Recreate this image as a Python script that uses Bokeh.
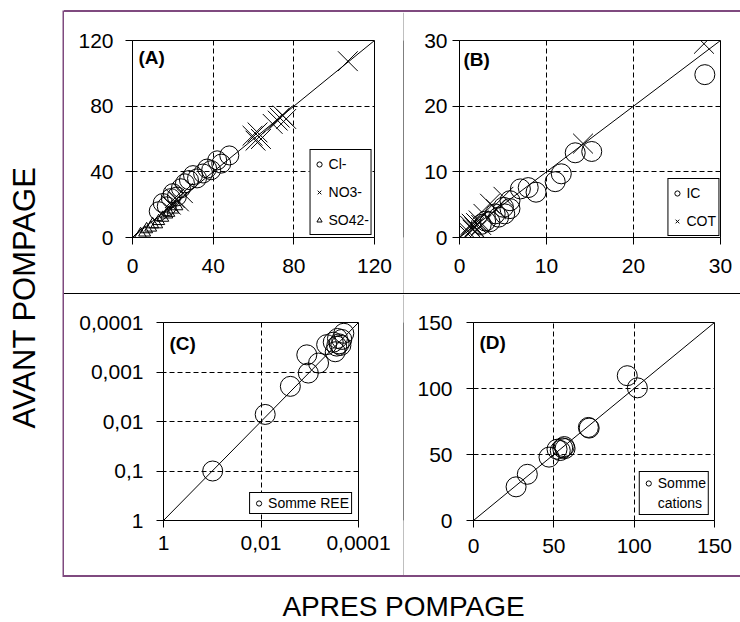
from bokeh.plotting import figure
from bokeh.models import (Range1d, FixedTicker, Legend, LegendItem, Label,
                          CustomJSTickFormatter, Spacer)
from bokeh.layouts import row, column
from bokeh.embed import file_html
from bokeh.resources import INLINE

FONT = "Liberation Sans"
PURPLE = "#7f4a7f"

# ---------------- data ----------------
# Panel A : anions
a_ticks = [0, 40, 80, 120]
a_grid = [40, 80]
a_diag = [0, 120]
cl_x = [13, 15, 17, 19, 20, 22, 24, 26, 28, 30, 32, 35, 37, 39, 42, 44, 48]
cl_y = [16, 21, 19, 24, 27, 25, 30, 33, 35, 38, 36, 39, 42, 41, 47, 45, 50]
no3_x = [0, 19, 21, 23, 25, 59.5, 61, 62, 63.7, 69.5, 72, 73, 74.5, 76.2, 106.8]
no3_y = [0, 20, 24, 22, 27, 62, 59, 64, 60, 69.2, 71.2, 73, 74.3, 72.2, 107.4]
so4_x = [4, 6, 7, 9, 10, 12, 13, 15, 17, 18, 20, 22]
so4_y = [2, 3, 5, 6, 8, 8, 10, 12, 14, 15, 17, 19]

# Panel B : carbon
b_ticks = [0, 10, 20, 30]
b_grid = [10, 20]
b_diag = [0, 30]
ic_x = [2.5, 3.0, 3.5, 4.1, 4.5, 5.05, 5.2, 5.8, 5.8, 7.0, 7.9, 8.8, 11.0, 11.7, 13.3, 15.2, 28.2]
ic_y = [2.0, 2.5, 2.4, 3.6, 3.1, 4.6, 3.6, 4.4, 5.6, 7.4, 7.6, 6.9, 8.5, 9.7, 12.9, 13.1, 24.8]
cot_x = [0.85, 1.0, 1.2, 1.4, 1.5, 1.7, 1.9, 2.0, 2.2, 2.5, 2.75, 3.5, 4.2, 5.05, 14.2, 28.1]
cot_y = [1.1, 0.5, 1.8, 2.1, 1.2, 1.6, 2.2, 1.1, 2.6, 1.9, 3.6, 5.15, 4.3, 6.2, 14.3, 29.5]

# Panel C : sum of REE (log axes, reversed)
c_ticks_x = [1, 0.01, 0.0001]
c_ticks_y = [1, 0.1, 0.01, 0.001, 0.0001]
c_grid_x = [0.01]
c_grid_y = [0.1, 0.01, 0.001]
c_diag = [1, 0.0001]
ree_x = [0.098, 0.0082, 0.0025, 0.00107, 0.00115, 0.00066, 0.00045, 0.0003,
         0.00033, 0.00028, 0.00025, 0.00022, 0.0002, 0.00027, 0.00023]
ree_y = [0.1, 0.0072, 0.00195, 0.00105, 0.00045, 0.00066, 0.00028, 0.00039,
         0.00025, 0.0003, 0.00027, 0.00022, 0.000165, 0.00021, 0.00029]

# Panel D : sum of cations
d_ticks = [0, 50, 100, 150]
d_grid = [50, 100]
d_diag = [0, 150]
cat_x = [26.5, 33.5, 47, 52, 54, 55.5, 56.5, 57, 71.5, 72, 95.7, 102]
cat_y = [25.5, 35, 48, 54, 53, 55, 56, 54.5, 70.5, 70, 109.7, 100.5]
empty = []


def make_panel(xr, yr, w, h, bl, br, bt, bb, xticks, yticks, xgrid, ygrid,
               xstand, ystand, log=False):
    kw = {}
    if log:
        kw = dict(x_axis_type="log", y_axis_type="log")
    p = figure(width=w, height=h, x_range=xr, y_range=yr, title=None,
               min_border_left=bl, min_border_right=br, min_border_top=bt,
               min_border_bottom=bb, output_backend="svg",
               toolbar_location=None, **kw)
    p.background_fill_color = "white"
    p.border_fill_color = "white"
    p.outline_line_color = "black"
    p.outline_line_width = 1
    p.xaxis.ticker = FixedTicker(ticks=xticks)
    p.yaxis.ticker = FixedTicker(ticks=yticks)
    p.xgrid.ticker = FixedTicker(ticks=xgrid)
    p.ygrid.ticker = FixedTicker(ticks=ygrid)
    for g in (p.xgrid, p.ygrid):
        g.grid_line_color = "black"
        g.grid_line_dash = "5 3"
        g.grid_line_width = 1
    for ax in p.axis:
        ax.axis_line_color = "black"
        ax.major_tick_line_color = "black"
        ax.major_tick_out = 7
        ax.major_tick_in = 0
        ax.minor_tick_line_color = None
        ax.major_label_text_font = FONT
        ax.major_label_text_font_size = "21px"
        ax.major_label_text_color = "black"
        ax.formatter = CustomJSTickFormatter(
            code="return tick.toString().replace('.', ',');")
    p.xaxis.major_label_standoff = xstand
    p.yaxis.major_label_standoff = ystand
    return p


def style_legend(leg, pad, lh, gw, spacing, margin):
    leg.location = "bottom_right"
    leg.border_line_color = "black"
    leg.border_line_width = 1
    leg.border_line_alpha = 1
    leg.background_fill_color = "white"
    leg.background_fill_alpha = 1
    leg.label_text_font = FONT
    leg.label_text_font_size = "14px"
    leg.label_text_color = "black"
    leg.padding = pad
    leg.label_height = lh
    leg.glyph_height = lh
    leg.glyph_width = gw
    leg.label_standoff = 3
    leg.spacing = spacing
    leg.margin = margin


def panel_label(p, x, y, text, dx, dy):
    p.add_layout(Label(x=x, y=y, text=text, x_offset=dx, y_offset=-dy,
                       text_font=FONT, text_font_size="19px",
                       text_font_style="bold", text_baseline="top",
                       text_align="left", text_color="black"))


mk = dict(fill_color=None, line_color="black", line_width=1)

# ---- Panel A ----
pA = make_panel(Range1d(0, 120), Range1d(0, 120), 339, 281, 68, 29, 28, 56,
                a_ticks, a_ticks, a_grid, a_grid, 14, 12)
pA.line(a_diag, a_diag, line_color="black", line_width=1)
rA1 = pA.scatter(cl_x, cl_y, marker="circle", size=19, **mk)
rA2 = pA.scatter(no3_x, no3_y, marker="x", size=28, **mk)
rA3 = pA.scatter(so4_x, so4_y, marker="triangle", size=12, **mk)
legA = Legend(items=[LegendItem(label="Cl-", renderers=[rA1]),
                     LegendItem(label="NO3-", renderers=[rA2]),
                     LegendItem(label="SO42-", renderers=[rA3])])
style_legend(legA, 2, 24, 13, 4, 2)
pA.add_layout(legA)
panel_label(pA, 0, 120, "(A)", 6, 6)

# ---- Panel B ----
pB = make_panel(Range1d(0, 30), Range1d(0, 30), 336, 281, 55, 20, 27, 56,
                b_ticks, b_ticks, b_grid, b_grid, 14, 5)
pB.line(b_diag, b_diag, line_color="black", line_width=1)
rB1 = pB.scatter(ic_x, ic_y, marker="circle", size=20, **mk)
rB2 = pB.scatter(cot_x, cot_y, marker="x", size=28, **mk)
legB = Legend(items=[LegendItem(label="IC", renderers=[rB1]),
                     LegendItem(label="COT", renderers=[rB2])])
style_legend(legB, 2, 24, 13, 4, 1)
pB.add_layout(legB)
panel_label(pB, 0, 30, "(B)", 4, 8)

# ---- Panel C ----
pC = make_panel(Range1d(1, 0.0001), Range1d(1, 0.0001), 339, 281, 99, 45, 27, 55,
                c_ticks_x, c_ticks_y, c_grid_x, c_grid_y, 8, 13, log=True)
pC.line(c_diag, c_diag, line_color="black", line_width=1)
rC1 = pC.scatter(ree_x, ree_y, marker="circle", size=20, **mk)
legC = Legend(items=[LegendItem(label="Somme REE", renderers=[rC1])])
style_legend(legC, 2, 16, 13, 0, 6)
pC.add_layout(legC)
panel_label(pC, 1, 0.0001, "(C)", 6, 10)

# ---- Panel D ----
pD = make_panel(Range1d(0, 150), Range1d(0, 150), 336, 281, 69, 26, 28, 55,
                d_ticks, d_ticks, d_grid, d_grid, 11, 14)
pD.line(d_diag, d_diag, line_color="black", line_width=1)
rD1 = pD.scatter(cat_x, cat_y, marker="circle", size=20, **mk)
rD0 = pD.scatter(empty, empty, marker="circle", size=20, fill_color=None,
                 line_color="black", line_alpha=0)
legD = Legend(items=[LegendItem(label="Somme", renderers=[rD1]),
                     LegendItem(label="cations", renderers=[rD0])])
style_legend(legD, 2, 18, 13, 2, 5)
pD.add_layout(legD)
panel_label(pD, 0, 150, "(D)", 6, 9)


# ---- decorations ----
def bare(w, h, xr=None, yr=None):
    kw = {}
    if xr is not None:
        kw = dict(x_range=xr, y_range=yr)
    s = figure(width=w, height=h, min_border=0, x_axis_location=None,
               y_axis_location=None, output_backend="svg", title=None,
               toolbar_location=None, **kw)
    s.xgrid.visible = False
    s.ygrid.visible = False
    s.outline_line_color = None
    return s


def vstrip(w, h, color):
    s = bare(w, h)
    s.background_fill_color = color
    s.border_fill_color = color
    return s


def hstrip(w, h, color):
    return Spacer(width=w, height=h, styles={"background-color": color})


left = bare(62, 622, Range1d(0, 62), Range1d(0, 622))
left.add_layout(Label(x=24, y=325, text="AVANT POMPAGE", angle=90, angle_units="deg",
                      text_align="center", text_baseline="middle", text_font=FONT,
                      text_font_size="31px", text_color="black"))

bottom = bare(678, 45, Range1d(0, 678), Range1d(0, 45))
bottom.add_layout(Label(x=341, y=16, text="APRES POMPAGE", text_align="center",
                        text_baseline="middle", text_font=FONT,
                        text_font_size="28px", text_color="black"))

inner = column(
    hstrip(676, 2, PURPLE),
    row(pA, vstrip(1, 281, "black"), pB),
    hstrip(676, 1, "black"),
    row(pC, vstrip(1, 281, "black"), pD),
    hstrip(676, 2, PURPLE),
)
box = row(vstrip(2, 567, PURPLE), inner)
right_col = column(Spacer(width=678, height=10), box, bottom)
root = row(left, right_col)

open("out.html", "w").write(file_html(root, INLINE))
